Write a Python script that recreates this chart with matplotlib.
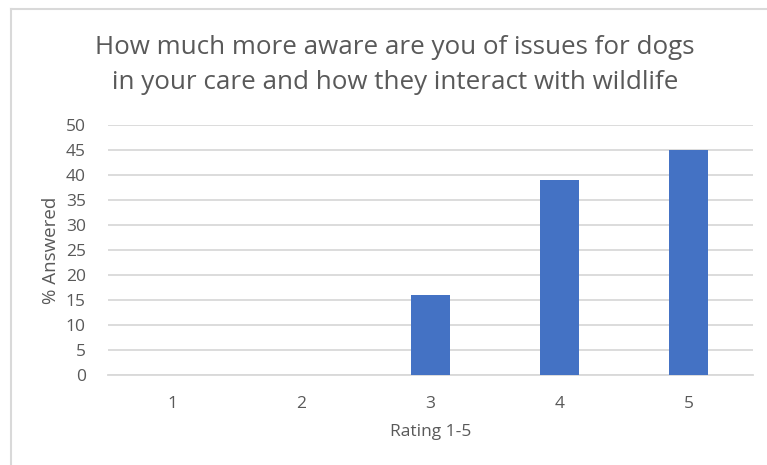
import matplotlib
matplotlib.use("Agg")
import matplotlib.pyplot as plt
from matplotlib.lines import Line2D

categories = ["1", "2", "3", "4", "5"]
values = [0, 0, 16, 39, 45]
yticks = [0, 5, 10, 15, 20, 25, 30, 35, 40, 45, 50]
title = "How much more aware are you of issues for dogs\nin your care and how they interact with wildlife"
xlabel = "Rating 1-5"
ylabel = "% Answered"

plt.rcParams['font.family'] = ['Open Sans', 'DejaVu Sans']
txt = '#595959'
W, H = 767, 465
fig = plt.figure(figsize=(W/100, H/100), dpi=100)
ax = fig.add_axes([108/W, 1-375/H, (753-108)/W, 250/H])

x = list(range(1, len(categories)+1))
ax.bar(x, values, width=0.31, color='#4472C4', zorder=3)
ax.set_xlim(0.5, len(categories)+0.5)
ax.set_ylim(0, 50)
ax.set_yticks(yticks)
ax.set_xticks(x)
ax.set_xticklabels(categories)
ax.yaxis.grid(True, color='#d9d9d9', linewidth=1.3, zorder=0)
ax.set_axisbelow(True)
for s in ['top', 'right', 'left']:
    ax.spines[s].set_visible(False)
ax.spines['bottom'].set_color('#d9d9d9')
ax.spines['bottom'].set_linewidth(1.3)
ax.tick_params(axis='both', length=0, colors=txt, labelsize=12.5)
ax.tick_params(axis='y', pad=16)
ax.tick_params(axis='x', pad=15)
ax.set_xlabel(xlabel, color=txt, fontsize=12.5, labelpad=9)
ax.set_ylabel(ylabel, color=txt, fontsize=13.5, labelpad=4)

fig.text(395/W, 1-65/H, title, ha='center', va='center', fontsize=18.7,
         color=txt, linespacing=1.55)

fig.add_artist(Line2D([10.5/W, 10.5/W], [0, 1-9/H], transform=fig.transFigure, color='#d9d9d9', linewidth=1.5))
fig.add_artist(Line2D([10.5/W, 1], [1-9/H, 1-9/H], transform=fig.transFigure, color='#d9d9d9', linewidth=1.5))

fig.savefig('out.png', dpi=100)
